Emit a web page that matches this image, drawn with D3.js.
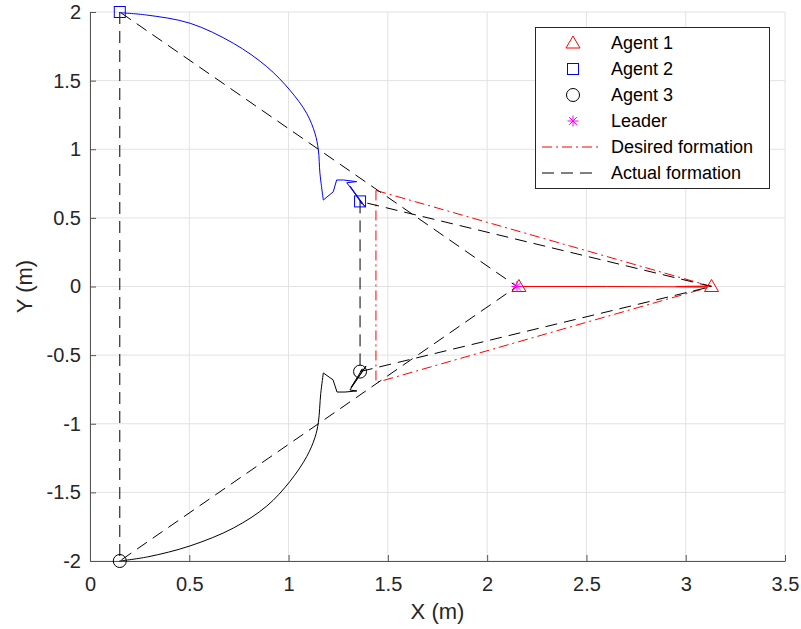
<!DOCTYPE html>
<html>
<head>
<meta charset="utf-8">
<script src="https://cdn.jsdelivr.net/npm/d3@7"></script>
<style>
  body { margin: 0; background: #fff; }
  svg { font-family: "Liberation Sans", Arial, sans-serif; }
</style>
</head>
<body>
<svg id="chart"></svg>
<script>
// 1. Data (metres)
const xTicks = [0, 0.5, 1, 1.5, 2, 2.5, 3, 3.5];
const yTicks = [-2, -1.5, -1, -0.5, 0, 0.5, 1, 1.5, 2];

// agent trajectories: a smooth arc, then the jagged settling part
const agent1X = [3.13, 2.95, 3.11, 2.60, 2.16];
const agent1Y = [0.004, 0.0, -0.003, 0.0, 0.0];

const agent2ArcX = [0.148, 0.285, 0.504, 0.722, 0.890, 1.007, 1.091, 1.133, 1.150, 1.158, 1.175];
const agent2ArcY = [1.995, 1.978, 1.918, 1.772, 1.602, 1.430, 1.262, 1.116, 0.995, 0.825, 0.630];
const agent2TailX = [1.175, 1.225, 1.242, 1.276, 1.343, 1.293, 1.385, 1.310, 1.370, 1.360];
const agent2TailY = [0.630, 0.690, 0.776, 0.776, 0.764, 0.756, 0.581, 0.730, 0.600, 0.623];

const agent3ArcX = [0.148, 0.290, 0.504, 0.722, 0.890, 1.007, 1.091, 1.133, 1.150, 1.162, 1.175];
const agent3ArcY = [-2.0, -1.970, -1.890, -1.760, -1.600, -1.420, -1.240, -1.100, -0.990, -0.780, -0.630];
const agent3TailX = [1.175, 1.224, 1.244, 1.284, 1.344, 1.309, 1.390, 1.315, 1.372, 1.360];
const agent3TailY = [-0.630, -0.680, -0.769, -0.769, -0.761, -0.754, -0.580, -0.735, -0.600, -0.623];

// marker positions: start and end of each agent
const agent1Marks = [[2.16, 0], [3.13, 0]];
const agent2Marks = [[0.15, 2], [1.36, 0.62]];
const agent3Marks = [[0.15, -2], [1.36, -0.62]];
const leaderMarks = [[2.15, 0]];

// formations
const desiredFormation = [[1.44, 0.70], [1.44, -0.70], [3.13, 0], [1.44, 0.70]];
const initialFormation = [[0.15, 2], [0.15, -2], [2.15, 0], [0.15, 2]];
const finalFormation = [[1.36, 0.62], [1.36, -0.62], [3.13, 0], [1.36, 0.62]];

const legendLabels = ["Agent 1", "Agent 2", "Agent 3", "Leader", "Desired formation", "Actual formation"];

// 2. Drawing area
const width = 801, height = 629;
const svg = d3.select("#chart").attr("width", width).attr("height", height);

const x = d3.scaleLinear().domain([0, 3.5]).range([90, 785]);
const y = d3.scaleLinear().domain([-2, 2]).range([561, 12]);

const line = d3.line().x(d => x(d[0])).y(d => y(d[1]));
const smooth = d3.line().x(d => x(d[0])).y(d => y(d[1])).curve(d3.curveCatmullRom.alpha(0.5));
const zip = (xs, ys) => xs.map((v, i) => [v, ys[i]]);

// grid
const grid = svg.append("g").attr("stroke", "#e2e2e2").attr("stroke-width", 1);
grid.selectAll("line.gx").data(xTicks).enter().append("line")
    .attr("x1", d => x(d)).attr("x2", d => x(d))
    .attr("y1", y(-2)).attr("y2", y(2));
grid.selectAll("line.gy").data(yTicks).enter().append("line")
    .attr("x1", x(0)).attr("x2", x(3.5))
    .attr("y1", d => y(d)).attr("y2", d => y(d));

// 3. Axes
const fmt = d => String(d);
const xAxis = svg.append("g")
    .attr("transform", `translate(0,${y(-2)})`)
    .call(d3.axisBottom(x).tickValues(xTicks).tickFormat(fmt).tickSize(-6).tickSizeOuter(0).tickPadding(16));
const yAxis = svg.append("g")
    .attr("transform", `translate(${x(0)},0)`)
    .call(d3.axisLeft(y).tickValues(yTicks).tickFormat(fmt).tickSize(-6).tickSizeOuter(0).tickPadding(9));

[xAxis, yAxis].forEach(a => {
    a.select(".domain").attr("stroke", "#555");
    a.selectAll(".tick line").attr("stroke", "#555");
    a.selectAll(".tick text").attr("fill", "#262626").style("font-size", "20px");
});

svg.append("text")
    .attr("x", (x(0) + x(3.5)) / 2).attr("y", 619)
    .attr("text-anchor", "middle").attr("fill", "#262626")
    .style("font-size", "22px").text("X (m)");
svg.append("text")
    .attr("transform", `translate(32,${(y(-2) + y(2)) / 2}) rotate(-90)`)
    .attr("text-anchor", "middle").attr("fill", "#262626")
    .style("font-size", "22px").text("Y (m)");

// 4. Trajectories and formations
const plot = svg.append("g").attr("fill", "none").attr("stroke-width", 1);

plot.append("path").attr("d", line(zip(agent1X, agent1Y))).attr("stroke", "#ff0000");
plot.append("path").attr("d", smooth(zip(agent2ArcX, agent2ArcY))).attr("stroke", "#0000ff");
plot.append("path").attr("d", line(zip(agent2TailX, agent2TailY))).attr("stroke", "#0000ff");
plot.append("path").attr("d", smooth(zip(agent3ArcX, agent3ArcY))).attr("stroke", "#000");
plot.append("path").attr("d", line(zip(agent3TailX, agent3TailY))).attr("stroke", "#000");

plot.append("path").attr("d", line(desiredFormation))
    .attr("stroke", "#ff0000").attr("stroke-dasharray", "10,4,2,4");
[initialFormation, finalFormation].forEach(f => {
    plot.append("path").attr("d", line(f))
        .attr("stroke", "#000").attr("stroke-dasharray", "12,7");
});

// marker shapes
function marker(g, kind, cx, cy) {
    if (kind === "tri") {
        g.append("path").attr("d", `M${cx},${cy - 7}L${cx + 7},${cy + 5}L${cx - 7},${cy + 5}Z`)
            .attr("fill", "none").attr("stroke", "#ff0000");
    } else if (kind === "sq") {
        g.append("rect").attr("x", cx - 5.5).attr("y", cy - 5.5).attr("width", 11).attr("height", 11)
            .attr("fill", "none").attr("stroke", "#0000ff");
    } else if (kind === "circ") {
        g.append("circle").attr("cx", cx).attr("cy", cy).attr("r", 6.5)
            .attr("fill", "none").attr("stroke", "#000");
    } else {
        const r = 5.5, s = r * Math.SQRT1_2;
        g.append("path")
            .attr("d", `M${cx - r},${cy}H${cx + r}M${cx},${cy - r}V${cy + r}M${cx - s},${cy - s}L${cx + s},${cy + s}M${cx - s},${cy + s}L${cx + s},${cy - s}`)
            .attr("fill", "none").attr("stroke", "#ff00ff");
    }
}

const marks = svg.append("g");
agent1Marks.forEach(p => marker(marks, "tri", x(p[0]), y(p[1])));
agent2Marks.forEach(p => marker(marks, "sq", x(p[0]), y(p[1])));
agent3Marks.forEach(p => marker(marks, "circ", x(p[0]), y(p[1])));
leaderMarks.forEach(p => marker(marks, "star", x(p[0]), y(p[1])));

// 5. Legend
const legend = svg.append("g");
legend.append("rect")
    .attr("x", 535.5).attr("y", 27.5).attr("width", 234).attr("height", 161)
    .attr("fill", "#fff").attr("stroke", "#262626").attr("stroke-width", 1);

const kinds = ["tri", "sq", "circ", "star", "dashdot", "dash"];
legendLabels.forEach((lab, i) => {
    const ry = 43 + i * 26;
    const k = kinds[i];
    if (k === "dashdot" || k === "dash") {
        legend.append("line")
            .attr("x1", 542).attr("x2", 598).attr("y1", ry).attr("y2", ry)
            .attr("stroke", k === "dash" ? "#000" : "#ff0000")
            .attr("stroke-dasharray", k === "dash" ? "12,7" : "10,4,2,4");
    } else {
        marker(legend, k, 573, ry);
    }
    legend.append("text")
        .attr("x", 611).attr("y", ry).attr("dy", "0.35em")
        .attr("fill", "#000").style("font-size", "18px").text(lab);
});
</script>
</body>
</html>
